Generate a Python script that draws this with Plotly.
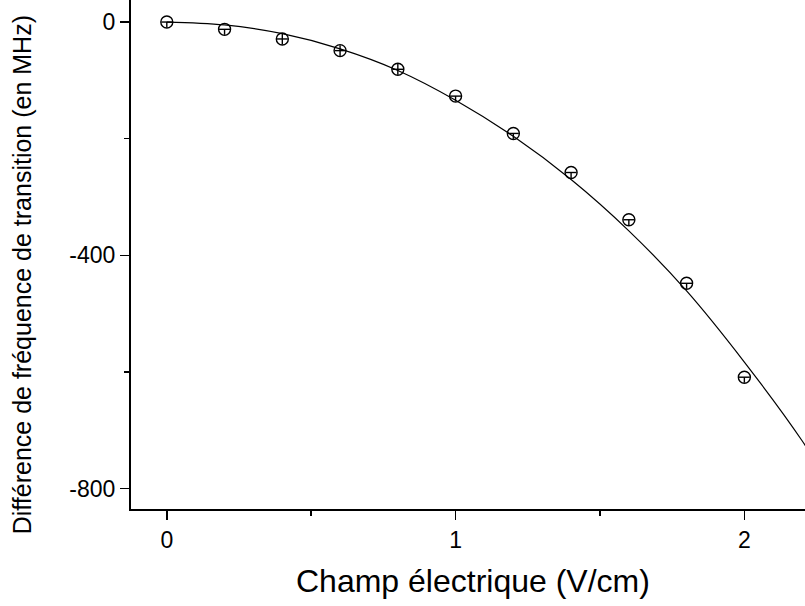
import plotly.graph_objects as go

# Measured points
field = [0.0, 0.2, 0.4, 0.6, 0.8, 1.0, 1.2, 1.4, 1.6, 1.8, 2.0]
shift = [0, -12.5, -29, -49, -81, -127, -191, -258, -339, -448, -609]
err_up = [0, 0, 9.4, 9.4, 9.4, 0, 0, 0, 0, 0, 0]
err_down = [9.4] * 11
err_x = [0.019] * 11

# Fit curve
fit_field = [0.0, 0.2, 0.4, 0.6, 0.8, 1.0, 1.2, 1.4, 1.6, 1.8, 2.0, 2.2, 2.25]
fit_shift = [0, -5, -20, -46, -83, -134, -196, -270, -358, -461, -583, -718, -758]

x_ticks = [0, 1, 2]
y_ticks = [0, -400, -800]

FONT = "Liberation Sans, Arial, sans-serif"

fig = go.Figure()
fig.add_trace(go.Scatter(
    x=fit_field, y=fit_shift, mode="lines",
    line=dict(color="black", width=1.2, shape="spline", smoothing=1.0),
    hoverinfo="skip", showlegend=False,
))
fig.add_trace(go.Scatter(
    x=field, y=shift, mode="markers",
    marker=dict(symbol="circle-open", size=12, color="black", line=dict(width=1.4, color="black")),
    error_y=dict(type="data", symmetric=False, array=err_up, arrayminus=err_down,
                 color="black", thickness=1.4, width=0),
    error_x=dict(type="data", array=err_x, color="black", thickness=1.4, width=0),
    showlegend=False,
))

fig.update_layout(
    width=805, height=606,
    margin=dict(l=131, r=0, t=0, b=97),
    paper_bgcolor="white", plot_bgcolor="white",
    font=dict(family=FONT, color="black"),
    xaxis=dict(
        range=[-0.124, 2.21], tickvals=x_ticks, ticktext=[str(v) for v in x_ticks],
        showgrid=False, zeroline=False, showline=True, linecolor="black", linewidth=2,
        ticks="outside", ticklen=9, tickwidth=1.5, tickcolor="black",
        tickfont=dict(size=23, family=FONT),
        minor=dict(dtick=0.5, tick0=0, ticks="outside", ticklen=5, tickwidth=1.5, tickcolor="black"),
    ),
    yaxis=dict(
        range=[-835, 37.8], tickvals=y_ticks, ticktext=[str(v) for v in y_ticks],
        showgrid=False, zeroline=False, showline=True, linecolor="black", linewidth=2,
        ticks="outside", ticklen=9, tickwidth=1.5, tickcolor="black",
        tickfont=dict(size=23, family=FONT),
        minor=dict(dtick=200, tick0=0, ticks="outside", ticklen=5, tickwidth=1.5, tickcolor="black"),
    ),
    annotations=[
        dict(text="Champ électrique (V/cm)", xref="paper", yref="paper",
             x=(473 - 131) / 674, y=(508.5 - 580) / 508.5, xanchor="center", yanchor="middle",
             showarrow=False, font=dict(size=32, family=FONT, color="black")),
        dict(text="Différence de fréquence de transition (en MHz)", xref="paper", yref="paper",
             x=(22 - 131) / 674, y=(508.5 - 275) / 508.5, xanchor="center", yanchor="middle",
             textangle=-90, showarrow=False, font=dict(size=25, family=FONT, color="black")),
    ],
)

fig.write_html("out.html", config={"displayModeBar": False, "staticPlot": True})

# remove the browser's default page margin so the figure sits at the top-left corner
with open("out.html", "r", encoding="utf-8") as f:
    html = f.read()
html = html.replace("<head>", "<head><style>html,body{margin:0;padding:0;overflow:hidden;}</style>", 1)
with open("out.html", "w", encoding="utf-8") as f:
    f.write(html)
